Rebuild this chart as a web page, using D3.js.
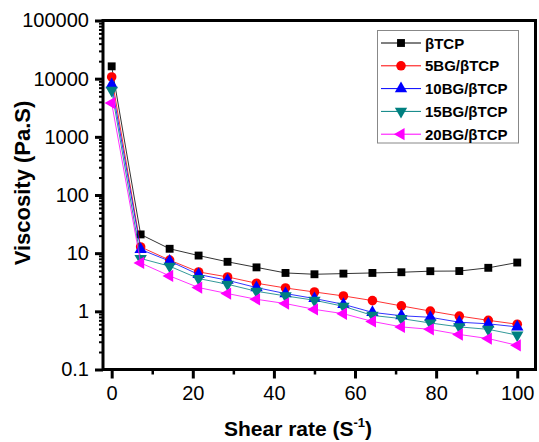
<!DOCTYPE html>
<html>
<head>
<meta charset="utf-8">
<script src="https://cdn.jsdelivr.net/npm/d3@7"></script>
<style>
  html, body { margin: 0; padding: 0; background: #fff; }
  svg { display: block; font-family: "Liberation Sans", Arial, sans-serif; }
</style>
</head>
<body>
<svg id="chart" width="539" height="442"></svg>
<script>
// ---- data ----
const shearRate = [0, 7.14, 14.29, 21.43, 28.57, 35.71, 42.86, 50, 57.14, 64.29, 71.43, 78.57, 85.71, 92.86, 100];
const seriesNames = ["βTCP", "5BG/βTCP", "10BG/βTCP", "15BG/βTCP", "20BG/βTCP"];
const bTCP  = [16300, 21, 11.9, 9.1, 7.1, 5.7, 4.57, 4.34, 4.45, 4.57, 4.7, 4.9, 4.93, 5.6, 6.9];
const bg5   = [10700, 12.8, 7.6, 4.76, 3.9, 3.04, 2.52, 2.15, 1.84, 1.53, 1.24, 1.01, 0.83, 0.70, 0.60];
const bg10  = [7900, 11.6, 7.3, 4.3, 3.42, 2.56, 2.02, 1.66, 1.32, 0.96, 0.84, 0.79, 0.65, 0.61, 0.54];
const bg15  = [6300, 8.1, 5.97, 3.66, 2.92, 2.21, 1.84, 1.55, 1.22, 0.85, 0.75, 0.63, 0.54, 0.49, 0.39];
const bg20  = [3800, 6.8, 4.06, 2.56, 2.02, 1.61, 1.36, 1.08, 0.91, 0.67, 0.54, 0.49, 0.40, 0.34, 0.26];
const seriesValues = [bTCP, bg5, bg10, bg15, bg20];
const xTickValues = [0, 20, 40, 60, 80, 100];
const xMinorTickValues = [10, 30, 50, 70, 90];
const yTickValues = [0.1, 1, 10, 100, 1000, 10000, 100000];
const yTickLabels = ["0.1", "1", "10", "100", "1000", "10000", "100000"];

// ---- styles ----
const colors = ["#000000", "#ff0000", "#0000ff", "#008080", "#ff00ff"];
const symbols = [
  {type: d3.symbolSquare, size: 62, rot: 0},
  {type: d3.symbolCircle, size: 72, rot: 0},
  {type: d3.symbolTriangle, size: 66, rot: 0},
  {type: d3.symbolTriangle, size: 66, rot: 180},
  {type: d3.symbolTriangle, size: 66, rot: -90}
];

const svg = d3.select("#chart");
const L = 103, R = 535.5, T = 20.5, B = 369.5;

const x = d3.scaleLinear().domain([-2.14, 104.5]).range([L, R]);
const y = d3.scaleLog().domain([0.1, 100000]).range([B, T]);

// minor y ticks
const yMinor = [];
for (let e = -1; e < 5; e++) for (let k = 2; k <= 9; k++) yMinor.push(k * Math.pow(10, e));

const gyMinor = svg.append("g").attr("transform", `translate(${L},0)`)
  .call(d3.axisLeft(y).tickValues(yMinor).tickSize(4).tickFormat(""));
gyMinor.select(".domain").remove();
gyMinor.selectAll(".tick line").attr("stroke", "#000").attr("stroke-width", 2);

const gy = svg.append("g").attr("transform", `translate(${L},0)`)
  .call(d3.axisLeft(y).tickValues(yTickValues).tickSize(8)
    .tickFormat((d, i) => yTickLabels[i]));
gy.select(".domain").remove();
gy.selectAll(".tick line").attr("stroke", "#000").attr("stroke-width", 3);
gy.selectAll(".tick text").attr("font-size", 20).attr("fill", "#000")
  .attr("font-family", "Liberation Sans, Arial, sans-serif").attr("x", -14);

const gxMinor = svg.append("g").attr("transform", `translate(0,${B})`)
  .call(d3.axisBottom(x).tickValues(xMinorTickValues).tickSize(5).tickFormat(""));
gxMinor.select(".domain").remove();
gxMinor.selectAll(".tick line").attr("stroke", "#000").attr("stroke-width", 2.5);

const gx = svg.append("g").attr("transform", `translate(0,${B})`)
  .call(d3.axisBottom(x).tickValues(xTickValues).tickSize(9).tickFormat(d3.format("d")));
gx.select(".domain").remove();
gx.selectAll(".tick line").attr("stroke", "#000").attr("stroke-width", 3);
gx.selectAll(".tick text").attr("font-size", 20).attr("fill", "#000")
  .attr("font-family", "Liberation Sans, Arial, sans-serif").attr("y", 16);

// frame
svg.append("rect").attr("x", L).attr("y", T).attr("width", R - L).attr("height", B - T)
  .attr("fill", "none").attr("stroke", "#000").attr("stroke-width", 3);

// series
const line = d3.line().x(d => x(d[0])).y(d => y(d[1]));
seriesValues.forEach((vals, si) => {
  const pts = shearRate.map((s, i) => [s, vals[i]]);
  svg.append("path").datum(pts).attr("d", line)
    .attr("fill", "none").attr("stroke", colors[si]).attr("stroke-width", 1).attr("opacity", 0.8);
  const sym = d3.symbol().type(symbols[si].type).size(symbols[si].size);
  svg.append("g").selectAll("path").data(pts).join("path")
    .attr("d", sym)
    .attr("transform", d => `translate(${x(d[0])},${y(d[1])}) rotate(${symbols[si].rot})`)
    .attr("fill", colors[si]);
});

// legend
const lg = svg.append("g");
lg.append("rect").attr("x", 377.5).attr("y", 30.5).attr("width", 141).attr("height", 112.5)
  .attr("fill", "#fff").attr("stroke", "#888").attr("stroke-width", 1);
seriesNames.forEach((name, si) => {
  const yy = 43 + si * 22.8;
  lg.append("line").attr("x1", 381).attr("x2", 421).attr("y1", yy).attr("y2", yy)
    .attr("stroke", colors[si]).attr("stroke-width", 1);
  lg.append("path").attr("d", d3.symbol().type(symbols[si].type).size(symbols[si].size)())
    .attr("transform", `translate(401,${yy}) rotate(${symbols[si].rot})`).attr("fill", colors[si]);
  lg.append("text").attr("x", 425).attr("y", yy + 5.5).attr("font-size", 15)
    .attr("font-weight", "bold").attr("fill", "#000").text(name);
});

// axis titles
const xt = svg.append("text").attr("x", 298).attr("y", 436).attr("text-anchor", "middle")
  .attr("font-size", 21).attr("font-weight", "bold").attr("fill", "#000");
xt.append("tspan").text("Shear rate (S");
xt.append("tspan").attr("font-size", 13).attr("dy", -9).text("-1");
xt.append("tspan").attr("dy", 9).text(")");

svg.append("text").attr("transform", "translate(30,183) rotate(-90)")
  .attr("text-anchor", "middle").attr("font-size", 22).attr("font-weight", "bold")
  .attr("fill", "#000").text("Viscosity (Pa.S)");
</script>
</body>
</html>
